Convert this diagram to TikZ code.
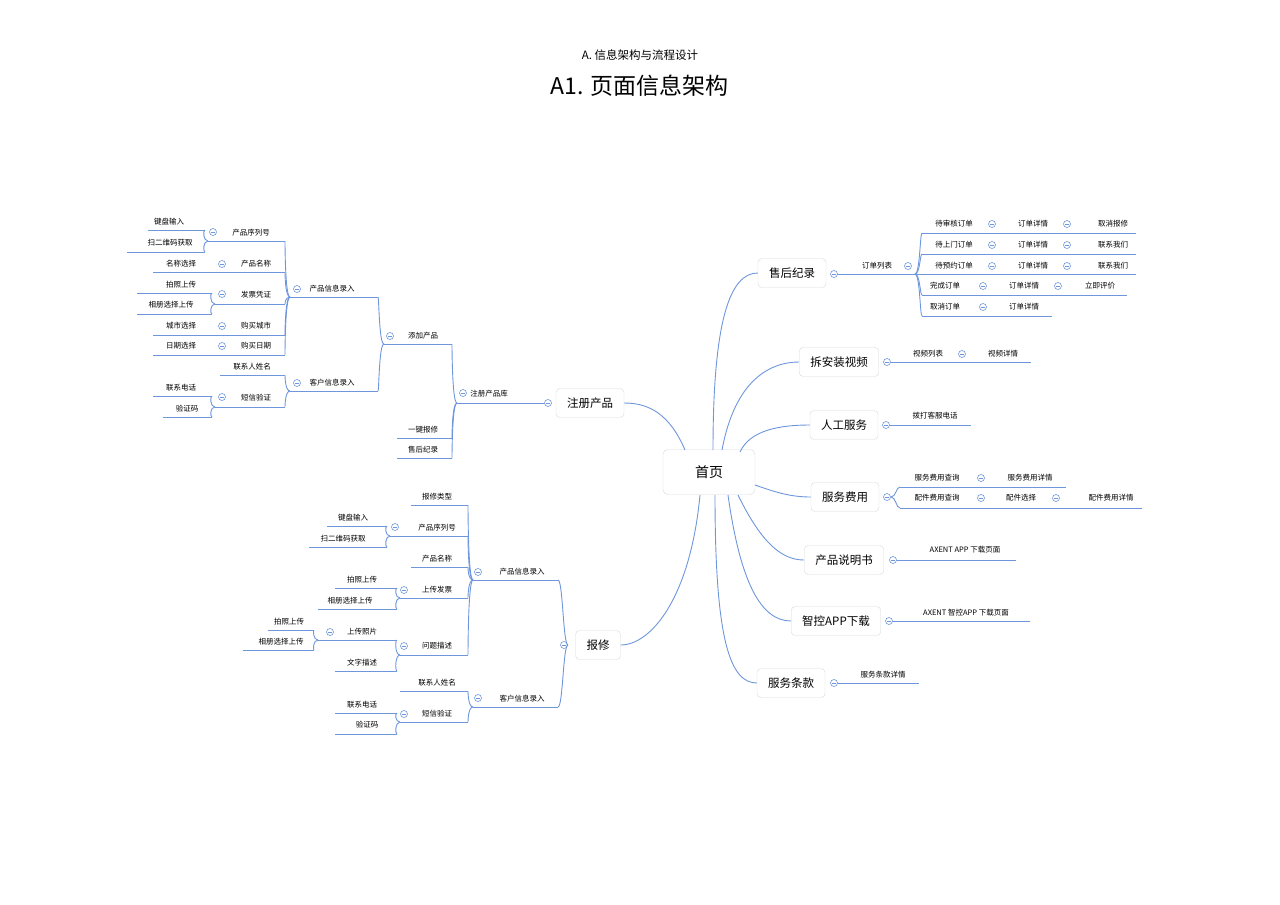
\documentclass[tikz,border=0pt]{standalone}
\usepackage{fontspec}
\setmainfont{Noto Sans CJK SC}
\begin{document}
\begin{tikzpicture}[x=1pt,y=-1pt,
  ln/.style={line width=0.9pt, color={rgb,255:red,110;green,150;blue,220}},
  lt/.style={font=\fontsize{7.5}{8}\selectfont, inner sep=0pt},
  mb/.style={draw=black!15, rounded corners=4pt, fill=white, font=\fontsize{11.5}{12}\selectfont, inner xsep=11pt, minimum height=29pt},
]
\useasboundingbox (0,0) rectangle (1280,905);
\newcommand\ul[3]{\draw[ln] (#1,#3) -- (#2,#3);}
\newcommand\lk[4]{\draw[ln] (#1,#2) .. controls ({#1-5},#2) and ({#1-5},#4) .. (#3,#4);}
\newcommand\rk[4]{\draw[ln] (#1,#2) .. controls ({#1+5},#2) and ({#1+5},#4) .. (#3,#4);}
\newcommand\cm[2]{\draw[ln,fill=white,line width=0.6pt] (#1,#2) circle (3.5); \draw[ln,line width=0.5pt] ({#1-2},#2) -- ({#1+2},#2);}
\newcommand\tx[3]{\node[lt] at (#1,#2) {#3};}

% titles
\node[font=\fontsize{11.5}{13}\selectfont] (t1) at (640,55) {A. 信息架构与流程设计};
\node[font=\fontsize{23}{25}\selectfont] (t2) at (640,86) {A1. 页面信息架构};

% center
\node[draw=black!15, rounded corners=5pt, fill=white, font=\fontsize{14}{15}\selectfont, minimum width=92pt, minimum height=45pt] (c) at (709,472) {首页};

% right main nodes
\node[mb] (r1) at (792,273) {售后纪录};
\node[mb] (r2) at (839,362) {拆安装视频};
\node[mb] (r3) at (844,425) {人工服务};
\node[mb] (r4) at (845,497) {服务费用};
\node[mb] (r5) at (844,560) {产品说明书};
\node[mb] (r6) at (836,621) {智控APP下载};
\node[mb] (r7) at (791,683) {服务条款};
\node[mb] (l1) at (590,403) {注册产品};
\node[mb] (l2) at (598,645) {报修};

\draw[ln] (713,450) .. controls (713,320) and (730,273) .. (r1.west);
\draw[ln] (722,450) .. controls (735,380) and (770,362) .. (r2.west);
\draw[ln] (740,452) .. controls (750,430) and (780,425) .. (r3.west);
\draw[ln] (755,485) .. controls (775,492) and (790,497) .. (r4.west);
\draw[ln] (738,495) .. controls (760,540) and (780,560) .. (r5.west);
\draw[ln] (728,495) .. controls (740,580) and (760,621) .. (r6.west);
\draw[ln] (715,495) .. controls (715,640) and (730,683) .. (r7.west);
\draw[ln] (685,450) .. controls (670,415) and (650,403) .. (l1.east);
\draw[ln] (700,495) .. controls (690,600) and (650,645) .. (l2.east);

% ---------- right side details
\ul{834}{915}{274}\cm{834}{274}
\tx{877}{266}{订单列表}\cm{908}{266}
\rk{915}{274}{922}{233}\rk{915}{274}{922}{254}\rk{915}{274}{922}{295}\rk{915}{274}{922}{316}
\ul{922}{1136}{233}\ul{922}{1136}{254}\ul{915}{1136}{274}\ul{922}{1127}{295}\ul{922}{1052}{316}
\tx{954}{224}{待审核订单}\cm{992}{224}\tx{1033}{224}{订单详情}\cm{1067}{224}\tx{1113}{224}{取消报修}
\tx{954}{245}{待上门订单}\cm{992}{245}\tx{1033}{245}{订单详情}\cm{1067}{245}\tx{1113}{245}{联系我们}
\tx{954}{266}{待预约订单}\cm{992}{266}\tx{1033}{266}{订单详情}\cm{1067}{266}\tx{1113}{266}{联系我们}
\tx{945}{286}{完成订单}\cm{983}{286}\tx{1024}{286}{订单详情}\cm{1058}{286}\tx{1100}{286}{立即评价}
\tx{945}{307}{取消订单}\cm{983}{307}\tx{1024}{307}{订单详情}
\ul{887}{1031}{362}\cm{887}{362}
\tx{928}{354}{视频列表}\cm{962}{354}\tx{1003}{354}{视频详情}
\ul{886}{971}{425}\cm{886}{425}\tx{935}{416}{拨打客服电话}
\cm{887}{497}
\rk{891}{497}{900}{487}\rk{891}{497}{900}{508}
\ul{900}{1066}{487}\ul{900}{1142}{508}
\tx{937}{478}{服务费用查询}\cm{981}{478}\tx{1030}{478}{服务费用详情}
\tx{937}{498}{配件费用查询}\cm{981}{498}\tx{1021}{498}{配件选择}\cm{1056}{498}\tx{1111}{498}{配件费用详情}
\ul{893}{1016}{560}\cm{893}{560}\tx{965}{550}{AXENT APP 下载页面}
\ul{889}{1030}{621}\cm{889}{621}\tx{966}{613}{AXENT 智控APP 下载页面}
\ul{834}{919}{683}\cm{834}{683}\tx{883}{675}{服务条款详情}

% ---------- left: 注册产品
\ul{457}{548}{403}\cm{548}{403}
\tx{489}{394}{注册产品库}\cm{463}{393}
\lk{457}{403}{452}{344}\lk{457}{403}{452}{438}\lk{457}{403}{452}{458}
\ul{384}{452}{344}\ul{397}{452}{438}\ul{397}{452}{458}
\tx{423}{336}{添加产品}\cm{390}{336}
\tx{423}{430}{一键报修}\tx{423}{450}{售后纪录}
\lk{384}{344}{378}{297}\lk{384}{344}{378}{391}
\ul{290}{378}{297}\ul{290}{378}{391}
\tx{332}{289}{产品信息录入}\cm{297}{289}
\tx{332}{383}{客户信息录入}\cm{297}{383}
\lk{290}{297}{285}{241}\lk{290}{297}{285}{272}\lk{290}{297}{285}{304}\lk{290}{297}{285}{335}\lk{290}{297}{285}{355}
\ul{208}{285}{241}\tx{251}{233}{产品序列号}\cm{213}{232}
\lk{208}{241}{205}{230}\lk{208}{241}{205}{252}
\ul{148}{205}{230}\ul{127}{205}{252}
\tx{169}{222}{键盘输入}\tx{170}{243}{扫二维码获取}
\ul{153}{285}{272}\tx{181}{264}{名称选择}\cm{222}{264}\tx{256}{264}{产品名称}
\ul{215}{285}{304}\tx{256}{295}{发票凭证}\cm{222}{294}
\lk{215}{304}{212}{293}\lk{215}{304}{212}{314}
\ul{137}{212}{293}\ul{137}{212}{314}
\tx{181}{285}{拍照上传}\tx{171}{305}{相册选择上传}
\ul{153}{285}{335}\tx{181}{326}{城市选择}\cm{222}{326}\tx{256}{326}{购买城市}
\ul{153}{285}{355}\tx{181}{346}{日期选择}\cm{222}{346}\tx{256}{346}{购买日期}
\lk{290}{391}{285}{375}\lk{290}{391}{285}{407}
\ul{220}{285}{375}\tx{252}{367}{联系人姓名}
\ul{215}{285}{407}\tx{256}{398}{短信验证}\cm{222}{397}
\lk{215}{407}{212}{396}\lk{215}{407}{212}{417}
\ul{153}{212}{396}\ul{163}{212}{417}
\tx{181}{388}{联系电话}\tx{187}{409}{验证码}

% ---------- left: 报修
\cm{564}{645}
\lk{568}{645}{558}{580}\lk{568}{645}{558}{707}
\ul{473}{558}{580}\ul{473}{558}{707}
\tx{522}{572}{产品信息录入}\cm{478}{572}
\tx{522}{699}{客户信息录入}\cm{478}{698}
\lk{473}{580}{468}{505}\lk{473}{580}{468}{536}\lk{473}{580}{468}{567}\lk{473}{580}{468}{598}\lk{473}{580}{468}{655}
\ul{411}{468}{505}\tx{437}{497}{报修类型}
\ul{390}{468}{536}\tx{437}{528}{产品序列号}\cm{395}{527}
\lk{390}{536}{387}{526}\lk{390}{536}{387}{547}
\ul{327}{387}{526}\ul{309}{387}{547}
\tx{353}{518}{键盘输入}\tx{343}{539}{扫二维码获取}
\ul{411}{468}{567}\tx{437}{559}{产品名称}
\ul{400}{468}{598}\tx{437}{590}{上传发票}\cm{404}{590}
\lk{400}{598}{397}{588}\lk{400}{598}{397}{609}
\ul{335}{397}{588}\ul{318}{397}{609}
\tx{362}{580}{拍照上传}\tx{350}{601}{相册选择上传}
\ul{400}{468}{655}\tx{437}{646}{问题描述}\cm{404}{646}
\lk{400}{655}{397}{640}\lk{400}{655}{397}{671}
\ul{318}{397}{640}\ul{335}{397}{671}
\tx{362}{632}{上传照片}\cm{330}{632}\tx{362}{663}{文字描述}
\lk{318}{640}{314}{630}\lk{318}{640}{314}{650}
\ul{268}{314}{630}\ul{243}{314}{650}
\tx{289}{622}{拍照上传}\tx{281}{642}{相册选择上传}
\lk{473}{707}{468}{691}\lk{473}{707}{468}{722}
\ul{400}{468}{691}\tx{437}{683}{联系人姓名}
\ul{400}{468}{722}\tx{437}{714}{短信验证}\cm{404}{714}
\lk{400}{722}{397}{713}\lk{400}{722}{397}{734}
\ul{335}{397}{713}\ul{335}{397}{734}
\tx{362}{705}{联系电话}\tx{367}{725}{验证码}
\end{tikzpicture}
\end{document}
